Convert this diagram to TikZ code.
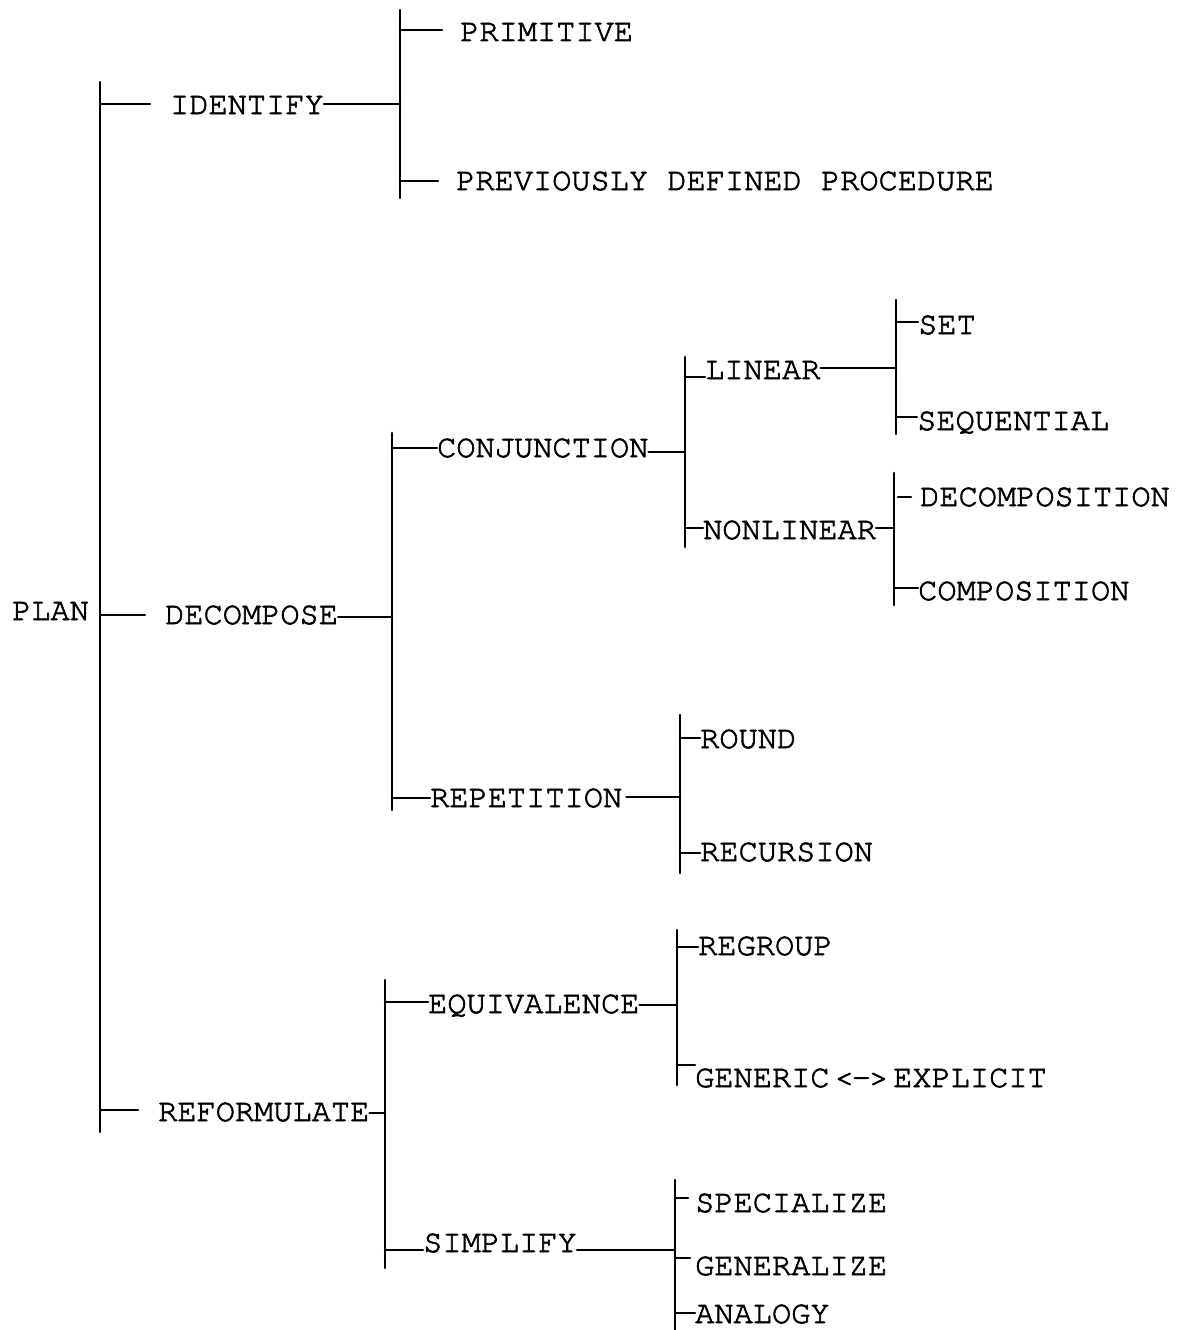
\documentclass[tikz,border=0pt]{standalone}
\usepackage{fontspec}
\setmainfont{TeX Gyre Cursor}[FakeBold=2.2]
\begin{document}
\begin{tikzpicture}[x=1pt,y=-1pt,
  lbl/.style={anchor=base west, inner sep=0pt, font=\fontsize{32}{36}\selectfont},
  ln/.style={line width=2.6pt, line cap=round}]
\useasboundingbox (0,0) rectangle (1179,1330);
\fill[white] (0,0) rectangle (1179,1330);
% ---- text nodes ----
\node[lbl] (PLAN) at (12,620) {PLAN};
\node[lbl] (ID) at (170,114) {IDENTIFY};
\node[lbl] (PRIM) at (460,41) {PRIMITIVE};
\node[lbl] (PREV) at (456,190) {PREVIOUSLY DEFINED PROCEDURE};
\node[lbl] (DEC) at (165,624) {DECOMPOSE};
\node[lbl] (CONJ) at (437,457) {CONJUNCTION};
\node[lbl] (LIN) at (705,379) {LINEAR};
\node[lbl] (SET) at (918,334) {SET};
\node[lbl] (SEQ) at (917,430) {SEQUENTIAL};
\node[lbl] (NONLIN) at (703,539) {NONLINEAR};
\node[lbl] (DCMP) at (920,506) {DECOMPOSITION};
\node[lbl] (CMP) at (918,600) {COMPOSITION};
\node[lbl] (REP) at (430,807) {REPETITION};
\node[lbl] (ROUND) at (700,748) {ROUND};
\node[lbl] (REC) at (700,861) {RECURSION};
\node[lbl] (REF) at (158,1121) {REFORMULATE};
\node[lbl] (EQ) at (428,1013) {EQUIVALENCE};
\node[lbl] (REG) at (698,955) {REGROUP};
\node[lbl] (GEN) at (695,1087) {GENERIC\kern5pt<\kern-2pt-\kern-2pt>\kern5pt EXPLICIT};
\node[lbl] (SIMP) at (423,1252) {SIMPLIFY};
\node[lbl] (SPEC) at (695,1212) {SPECIALIZE};
\node[lbl] (GENZ) at (695,1275) {GENERALIZE};
\node[lbl] (ANA) at (695,1323) {ANALOGY};
% ---- bars ----
\coordinate (b0t) at (100,82);    \coordinate (b0b) at (100,1132);
\coordinate (b1t) at (400,10);    \coordinate (b1b) at (400,198);
\coordinate (b2t) at (392,433);   \coordinate (b2b) at (392,810);
\coordinate (b3t) at (685,357);   \coordinate (b3b) at (685,547);
\coordinate (b4t) at (896,300);   \coordinate (b4b) at (896,434);
\coordinate (b5t) at (894,473);   \coordinate (b5b) at (894,605);
\coordinate (b6t) at (680,715);   \coordinate (b6b) at (680,873);
\coordinate (b7t) at (385,980);   \coordinate (b7b) at (385,1268);
\coordinate (b8t) at (677,930);   \coordinate (b8b) at (677,1085);
\coordinate (b9t) at (675,1180);  \coordinate (b9b) at (675,1330);
\foreach \b in {0,...,9} { \draw[ln] (b\b t) -- (b\b b); }
% ---- level 1 ----
\draw[ln] (100,104) -- (150,104);
\draw[ln] (ID.east |- 0,104) -- (b1t |- 0,104);
\draw[ln] (100,615) -- (145,615);
\draw[ln] (DEC.east |- 0,617) -- (b2t |- 0,617);
\draw[ln] (100,1110) -- (138,1110);
\draw[ln] (REF.east |- 0,1113) -- (b7t |- 0,1113);
% ---- identify ----
\draw[ln] (400,30) -- (442,30);
\draw[ln] (400,181) -- (438,181);
% ---- decompose ----
\draw[ln] (392,448) -- (CONJ.west |- 0,448);
\draw[ln] (CONJ.east |- 0,452) -- (b3t |- 0,452);
\draw[ln] (685,377) -- (LIN.west |- 0,377);
\draw[ln] (LIN.east |- 0,368) -- (b4t |- 0,368);
\draw[ln] (896,322) -- (SET.west |- 0,322);
\draw[ln] (896,417) -- (SEQ.west |- 0,417);
\draw[ln] (685,528) -- (NONLIN.west |- 0,528);
\draw[ln] (NONLIN.east |- 0,528) -- (b5t |- 0,528);
\draw[ln] (898,497) -- (911,497);
\draw[ln] (894,588) -- (CMP.west |- 0,588);
\draw[ln] (392,798) -- (REP.west |- 0,798);
\draw[ln] ([xshift=4pt]REP.east |- 0,797) -- (b6t |- 0,797);
\draw[ln] (680,738) -- (ROUND.west |- 0,738);
\draw[ln] (680,853) -- (REC.west |- 0,853);
% ---- reformulate ----
\draw[ln] (385,1002) -- (EQ.west |- 0,1002);
\draw[ln] (EQ.east |- 0,1005) -- (b8t |- 0,1005);
\draw[ln] (677,947) -- (REG.west |- 0,947);
\draw[ln] (677,1065) -- (GEN.west |- 0,1065);
\draw[ln] (385,1250) -- (SIMP.west |- 0,1250);
\draw[ln] (SIMP.east |- 0,1250) -- (b9t |- 0,1250);
\draw[ln] (675,1198) -- (688,1198);
\draw[ln] (675,1258) -- (690,1258);
\draw[ln] (675,1313) -- (ANA.west |- 0,1313);
\end{tikzpicture}
\end{document}
